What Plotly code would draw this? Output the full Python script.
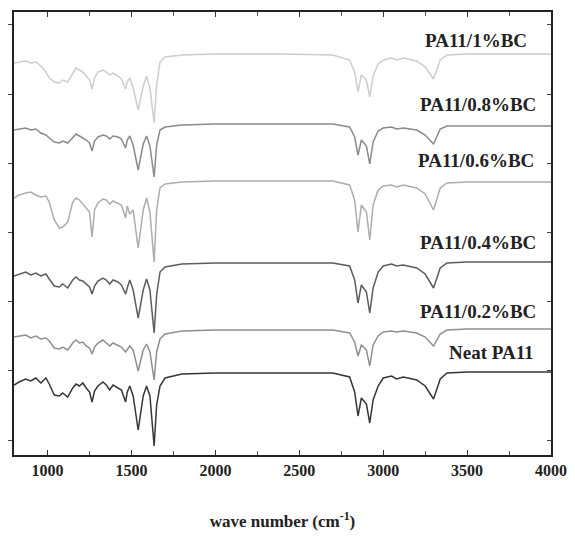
import plotly.graph_objects as go

# Wavenumber grid (cm^-1) shared by all spectra
wavenumber = [800, 830, 870, 900, 930, 960, 990, 1010,
              1040, 1070, 1090, 1120, 1150, 1170, 1190, 1210,
              1230, 1250, 1265, 1280, 1300, 1330, 1350, 1370,
              1390, 1420, 1440, 1465, 1475, 1490, 1510, 1540,
              1570, 1590, 1610, 1635, 1650, 1670, 1700, 1800,
              2000, 2400, 2700, 2800, 2830, 2850, 2870, 2900,
              2920, 2940, 2970, 3000, 3050, 3080, 3120, 3200,
              3250, 3300, 3340, 3380, 3500, 3700, 4000]

# Stacked transmittance (a.u., offset per sample)
neat_pa11 = [7.0, 7.3, 7.6, 7.4, 7.7, 7.2, 7.7, 7.1,
             6.0, 5.9, 6.2, 5.8, 6.7, 7.1, 6.9, 7.2,
             6.7, 6.3, 5.3, 6.4, 6.9, 7.3, 7.0, 6.5,
             7.0, 6.7, 6.5, 5.3, 6.3, 6.9, 5.9, 2.5,
             5.9, 6.9, 5.9, 0.9, 5.0, 6.9, 7.7, 8.1,
             8.2, 8.2, 8.2, 7.8, 6.3, 3.9, 5.7, 5.1,
             3.2, 5.5, 6.9, 7.7, 7.9, 7.6, 7.8, 7.5,
             6.9, 5.6, 7.6, 8.2, 8.3, 8.3, 8.3]

pa11_02bc = [11.8, 11.9, 12.0, 11.7, 11.9, 11.6, 11.7, 11.4,
             10.7, 10.6, 10.8, 10.5, 11.2, 11.5, 11.2, 11.3,
             10.9, 10.7, 10.1, 10.8, 11.2, 11.5, 11.2, 10.9,
             11.2, 11.0, 10.8, 10.3, 10.5, 10.9, 10.5, 8.4,
             10.5, 11.1, 10.3, 7.5, 10.3, 11.6, 12.1, 12.4,
             12.5, 12.5, 12.5, 12.2, 11.3, 9.9, 11.0, 10.5,
             8.9, 11.0, 11.9, 12.3, 12.4, 12.3, 12.4, 12.2,
             11.8, 10.9, 12.1, 12.5, 12.6, 12.6, 12.6]

pa11_04bc = [17.9, 18.1, 18.3, 18.0, 18.2, 17.9, 18.1, 17.6,
             16.9, 16.8, 17.1, 16.7, 17.5, 17.8, 17.5, 17.4,
             17.1, 16.8, 16.1, 16.9, 17.4, 17.7, 17.5, 17.1,
             17.5, 17.3, 17.0, 16.1, 16.7, 17.5, 16.5, 13.7,
             16.5, 17.6, 16.5, 12.2, 16.0, 18.3, 18.8, 19.1,
             19.2, 19.2, 19.2, 18.9, 17.5, 15.2, 17.0, 16.3,
             14.2, 16.7, 18.3, 18.9, 19.1, 18.9, 19.0, 18.7,
             18.1, 16.7, 18.7, 19.2, 19.3, 19.3, 19.3]

pa11_06bc = [25.7, 26.0, 26.2, 26.3, 26.0, 25.8, 25.9, 25.3,
             23.5, 22.7, 22.8, 23.3, 25.3, 25.7, 25.5, 25.1,
             24.8, 24.3, 21.8, 24.5, 25.2, 25.6, 25.5, 25.1,
             25.4, 25.2, 25.0, 23.7, 24.9, 24.1, 24.5, 20.7,
             24.5, 25.7, 24.3, 19.3, 24.5, 26.7, 27.1, 27.3,
             27.4, 27.4, 27.4, 27.0, 25.5, 22.3, 25.0, 24.3,
             21.5, 25.0, 26.5, 26.9, 27.0, 26.8, 27.0, 26.7,
             26.1, 24.5, 26.7, 27.2, 27.3, 27.3, 27.3]

pa11_08bc = [32.5, 32.6, 32.7, 32.5, 32.6, 32.2, 32.0, 31.7,
             31.3, 31.2, 31.4, 31.2, 31.8, 32.1, 31.9, 31.7,
             31.5, 31.2, 30.4, 31.4, 31.8, 32.0, 31.9, 31.6,
             31.9, 31.8, 31.6, 30.7, 31.5, 31.9, 31.0, 28.5,
             31.1, 31.9, 30.9, 27.8, 31.0, 32.5, 32.8, 33.0,
             33.1, 33.1, 33.1, 32.8, 31.8, 30.0, 31.5, 30.9,
             29.1, 31.3, 32.4, 32.7, 32.8, 32.6, 32.7, 32.5,
             32.0, 31.1, 32.6, 32.9, 32.9, 32.9, 32.9]

pa11_1bc = [39.2, 39.3, 39.4, 39.2, 39.3, 38.9, 38.3, 37.7,
            37.3, 37.2, 37.5, 37.3, 38.2, 38.7, 38.5, 38.3,
            37.9, 37.5, 36.6, 37.7, 38.3, 38.5, 38.3, 38.0,
            38.2, 37.9, 37.6, 36.6, 37.3, 37.7, 36.7, 34.5,
            36.9, 37.9, 36.7, 33.2, 37.0, 39.3, 39.8, 40.0,
            40.1, 40.1, 40.0, 39.5, 38.3, 36.3, 38.0, 37.5,
            35.8, 37.9, 39.1, 39.5, 39.7, 39.5, 39.7, 39.4,
            38.8, 37.6, 39.5, 40.0, 40.1, 40.1, 40.1]

series_names = ["PA11/1%BC", "PA11/0.8%BC", "PA11/0.6%BC",
                "PA11/0.4%BC", "PA11/0.2%BC", "Neat PA11"]
series_values = [pa11_1bc, pa11_08bc, pa11_06bc, pa11_04bc, pa11_02bc, neat_pa11]
series_colors = ["#cdcdcd", "#8a8a8a", "#adadad", "#5c5c5c", "#8f8f8f", "#363636"]

# label anchor points (data coordinates)
label_x = [3869, 3922, 3910, 3922, 3922, 3910]
label_y = [41.5, 35.1, 29.5, 21.3, 14.4, 10.3]

x_ticks = [1000, 1500, 2000, 2500, 3000, 3500, 4000]

fig = go.Figure()
for name, vals, col in zip(series_names, series_values, series_colors):
    fig.add_trace(go.Scatter(x=wavenumber, y=vals, mode="lines", name=name,
                             line=dict(color=col, width=1.5), showlegend=False))

# helper trace (transparent) so the right-hand tick axis is drawn
fig.add_trace(go.Scatter(x=[wavenumber[0]], y=[neat_pa11[0]], yaxis="y2",
                         mode="markers", marker=dict(opacity=0), showlegend=False,
                         hoverinfo="skip"))

serif = "Liberation Serif, Times New Roman, serif"
for name, lx, ly in zip(series_names, label_x, label_y):
    fig.add_annotation(x=lx, y=ly, text="<b>%s</b>" % name, showarrow=False,
                       xanchor="right", yanchor="middle",
                       font=dict(family=serif, size=19, color="#222222"))

yr = [0, 44.3]
fig.update_layout(
    width=567, height=528,
    margin=dict(l=6, r=24, t=4, b=81),
    paper_bgcolor="white", plot_bgcolor="white",
    xaxis=dict(range=[800, 4000], tickvals=x_ticks, automargin=False,
               ticktext=["<b>%d</b>" % v for v in x_ticks],
               ticks="inside", ticklen=5, tickcolor="#333",
               minor=dict(dtick=250, tick0=0, ticks="inside", ticklen=4, tickcolor="#555"),
               showline=True, linecolor="#222", linewidth=1.5, mirror="ticks",
               showgrid=False, zeroline=False,
               tickfont=dict(family=serif, size=16, color="#222"),
               title=dict(text="<b>wave number (cm<sup>-1</sup>)</b>",
                          font=dict(family=serif, size=17, color="#222"), standoff=37)),
    yaxis=dict(range=yr, tick0=1.5, dtick=6.92, ticks="outside", ticklen=4,
               tickcolor="#444", showticklabels=False, automargin=False,
               showline=True, linecolor="#222", linewidth=1.5, mirror=True,
               showgrid=False, zeroline=False),
    yaxis2=dict(range=yr, overlaying="y", side="right", tick0=1.5, dtick=6.92,
                ticks="inside", ticklen=4, tickcolor="#444", showticklabels=False,
                automargin=False, showline=False, showgrid=False, zeroline=False),
)

fig.write_html("out.html")
